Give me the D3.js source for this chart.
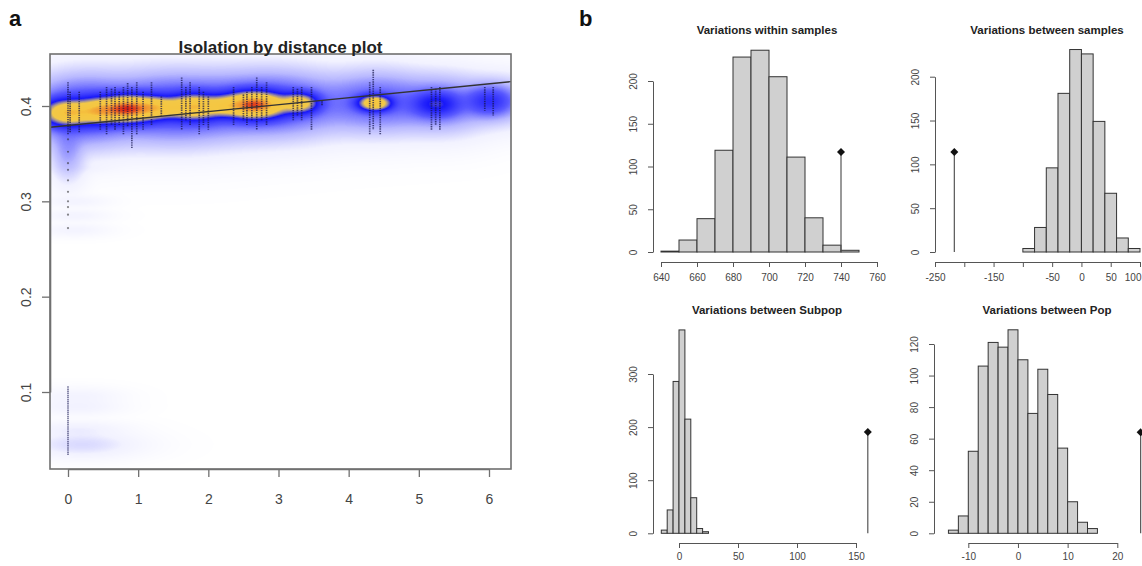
<!DOCTYPE html>
<html><head><meta charset="utf-8">
<script src="https://cdn.jsdelivr.net/npm/d3@7"></script>
<style>
body{margin:0;background:#fff}
svg{display:block}
text{font-family:"Liberation Sans",Arial,Helvetica,sans-serif}
</style>
</head><body>
<svg id="chart" width="1142" height="566"></svg>
<script>
// ================= Panel a : Isolation by distance =================
const ibdXTicks = [0, 1, 2, 3, 4, 5, 6];
const ibdYTicks = [0.1, 0.2, 0.3, 0.4];
const ibdTitle = "Isolation by distance plot";

// vertical strips of points (geographic distance, genetic distance range)
const stripDist = [0.0, 0.03, 0.16, 0.46, 0.55, 0.62, 0.67, 0.73, 0.79, 0.85, 0.91, 0.98, 1.07, 1.19, 1.33, 1.62, 1.68, 1.74, 1.87, 1.93, 2.0, 2.36, 2.5, 2.55, 2.62, 2.69, 2.76, 2.83, 3.21, 3.27, 3.33, 3.47, 3.62, 4.3, 4.35, 4.45, 5.18, 5.24, 5.3, 5.94, 6.06];
const stripLo   = [0.370, 0.372, 0.372, 0.375, 0.370, 0.380, 0.375, 0.380, 0.370, 0.378, 0.356, 0.370, 0.375, 0.380, 0.390, 0.375, 0.385, 0.380, 0.370, 0.380, 0.375, 0.380, 0.385, 0.380, 0.385, 0.375, 0.385, 0.380, 0.385, 0.390, 0.385, 0.375, 0.400, 0.370, 0.375, 0.370, 0.375, 0.380, 0.375, 0.395, 0.390];
const stripHi   = [0.425, 0.415, 0.415, 0.415, 0.420, 0.418, 0.420, 0.415, 0.420, 0.424, 0.420, 0.425, 0.415, 0.425, 0.410, 0.430, 0.420, 0.425, 0.420, 0.415, 0.410, 0.420, 0.412, 0.415, 0.420, 0.430, 0.420, 0.425, 0.420, 0.418, 0.420, 0.420, 0.405, 0.425, 0.438, 0.420, 0.420, 0.418, 0.420, 0.420, 0.420];
// sparse low values at distance 0
const lowDist = [0, 0, 0, 0, 0, 0, 0, 0, 0, 0];
const lowVal  = [0.365, 0.352, 0.340, 0.333, 0.322, 0.300, 0.294, 0.286, 0.272, 0.310];
const tailDist = 0;
const tailLo = 0.034, tailHi = 0.106;

// smoothed density blobs: centre x, centre y, spread x, spread y, weight
const densX  = [0.0,   0.45,  0.85,  1.2,   1.8,   2.65,  3.3,   4.37,  5.25,  6.0,   0.2,   1.5,   2.9,   4.4,   5.3,   6.1,   0.0,   0.1,    0.1,    0.1,    0.1,    0.15,   0.15,   0.15,   0.2,   1.42,  2.22];
const densY  = [0.393, 0.395, 0.397, 0.398, 0.399, 0.401, 0.403, 0.403, 0.402, 0.405, 0.395, 0.398, 0.402, 0.404, 0.402, 0.405, 0.355, 0.335,  0.300,  0.285,  0.270,  0.095,  0.085,  0.060,  0.045, 0.398, 0.400];
const densSx = [0.2,   0.18,  0.2,   0.15,  0.22,  0.25,  0.15,  0.13,  0.18,  0.18,  0.4,   0.6,   0.55,  0.4,   0.35,  0.3,   0.12,  0.25,   0.2,    0.2,    0.2,    0.25,   0.25,   0.3,    0.35,  0.14,  0.14];
const densSy = [0.0075,0.0075,0.0075,0.007, 0.0075,0.0075,0.006, 0.0045,0.007, 0.008, 0.017, 0.017, 0.016, 0.015, 0.014, 0.012, 0.015, 0.003,  0.003,  0.003,  0.003,  0.004,  0.004,  0.004,  0.006, 0.006, 0.006];
const densW  = [0.8,   0.75,  1.3,   0.55,  0.8,   1.3,   0.6,   0.8,   0.2,   0.12,  0.1,   0.1,   0.09,  0.06,  0.05,  0.025, 0.02,  0.0006, 0.0004, 0.0004, 0.0004, 0.0005, 0.0007, 0.001,  0.003, 0.3,   0.3];

// fitted regression line
const lineIntercept = 0.3796, lineSlope = 0.00728;

// ================= Panel b : randomisation tests =================
const h1Title = "Variations within samples";
const h1BinStart = [640, 650, 660, 670, 680, 690, 700, 710, 720, 730, 740];
const h1Counts   = [1, 14, 39, 119, 228, 236, 205, 111, 40, 8, 2];
const h1BinWidth = 10;
const h1Obs = 740, h1ObsH = 117;
const h1XTicks = [640, 660, 680, 700, 720, 740, 760];
const h1XLabels = [640, 660, 680, 700, 720, 740, 760];
const h1YTicks = [0, 50, 100, 150, 200];

const h2Title = "Variations between samples";
const h2BinStart = [-100, -80, -60, -40, -20, 0, 20, 40, 60, 80];
const h2Counts   = [4, 28, 96, 181, 231, 226, 149, 67, 16, 4];
const h2BinWidth = 20;
const h2Obs = -217, h2ObsH = 114;
const h2XTicks = [-250, -200, -150, -100, -50, 0, 50, 100];
const h2XLabels = [-250, -150, -50, 0, 50, 100];
const h2YTicks = [0, 50, 100, 150, 200];

const h3Title = "Variations between Subpop";
const h3BinStart = [-15, -10, -5, 0, 5, 10, 15, 20];
const h3Counts   = [6, 44, 286, 383, 215, 67, 9, 3];
const h3BinWidth = 5;
const h3Obs = 160, h3ObsH = 191;
const h3XTicks = [0, 50, 100, 150];
const h3XLabels = [0, 50, 100, 150];
const h3YTicks = [0, 100, 200, 300];

const h4Title = "Variations between Pop";
const h4BinStart = [-14, -12, -10, -8, -6, -4, -2, 0, 2, 4, 6, 8, 10, 12, 14];
const h4Counts   = [2, 11, 52, 106, 121, 118, 129, 110, 76, 104, 88, 54, 20, 7, 3];
const h4BinWidth = 2;
const h4Obs = 24.7, h4ObsH = 64;
const h4XTicks = [-10, 0, 10, 20];
const h4XLabels = [-10, 0, 10, 20];
const h4YTicks = [0, 20, 40, 60, 80, 100, 120];

// ================= Drawing =================
const svg = d3.select("#chart");
const TXT = "#444", AXC = "#555";

svg.append("text").attr("x", 9).attr("y", 26).attr("font-size", 22).attr("font-weight", "bold").attr("fill", "#111").text("a");
svg.append("text").attr("x", 579).attr("y", 26).attr("font-size", 22).attr("font-weight", "bold").attr("fill", "#111").text("b");

// ---- Panel a ----
const box = {x0: 50, x1: 511, y0: 54, y1: 469};
const ax = d3.scaleLinear().domain([0, 6]).range([68, 489]);
const ay = d3.scaleLinear().domain([0.1, 0.4]).range([392, 106]);

svg.append("defs").append("clipPath").attr("id", "clipA")
  .append("rect").attr("x", box.x0).attr("y", box.y0).attr("width", box.x1 - box.x0).attr("height", box.y1 - box.y0);

// density raster
(function () {
  const W = box.x1 - box.x0, H = box.y1 - box.y0;
  const cv = document.createElement("canvas");
  cv.width = W; cv.height = H;
  const ctx = cv.getContext("2d");
  const img = ctx.createImageData(W, H);
  const field = new Float32Array(W * H);
  let fmax = 0;
  for (let j = 0; j < H; j++) {
    const yv = ay.invert(box.y0 + j + 0.5);
    for (let i = 0; i < W; i++) {
      const xv = ax.invert(box.x0 + i + 0.5);
      let s = 0;
      for (let k = 0; k < densX.length; k++) {
        const dx = (xv - densX[k]) / densSx[k], dy = (yv - densY[k]) / densSy[k];
        const e = dx * dx + dy * dy;
        if (e < 60) s += densW[k] * Math.exp(-0.5 * e);
      }
      field[j * W + i] = s;
      if (s > fmax) fmax = s;
    }
  }
  const ramp = d3.scaleLinear()
    .domain([0, 0.15, 0.3, 0.45, 0.62, 0.7, 0.76, 0.87, 0.94, 1])
    .range(["#ffffff", "#f2f2ff", "#b8b8ff", "#5858ff", "#1818fa", "#9c8c9c", "#f2c848", "#f5c640", "#f09030", "#dc2414"])
    .interpolate(d3.interpolateRgb).clamp(true);
  const lut = d3.range(256).map(v => d3.rgb(ramp(v / 255)));
  for (let p = 0; p < W * H; p++) {
    const t = Math.pow(field[p] / fmax, 0.25);
    const c = lut[Math.round(t * 255)];
    img.data[p * 4] = c.r; img.data[p * 4 + 1] = c.g; img.data[p * 4 + 2] = c.b; img.data[p * 4 + 3] = 255;
  }
  ctx.putImageData(img, 0, 0);
  svg.append("image").attr("x", box.x0).attr("y", box.y0).attr("width", W).attr("height", H)
    .attr("preserveAspectRatio", "none").attr("href", cv.toDataURL());
})();

const gA = svg.append("g").attr("clip-path", "url(#clipA)");
// point strips
gA.selectAll("line.strip").data(stripDist).join("line").attr("class", "strip")
  .attr("x1", d => ax(d)).attr("x2", d => ax(d))
  .attr("y1", (d, i) => ay(stripHi[i])).attr("y2", (d, i) => ay(stripLo[i]))
  .attr("stroke", "#15154a").attr("stroke-width", 1.7).attr("stroke-opacity", 0.7)
  .attr("stroke-dasharray", "1.4 0.9");
gA.selectAll("circle.low").data(lowVal).join("circle").attr("class", "low")
  .attr("cx", (d, i) => ax(lowDist[i])).attr("cy", d => ay(d)).attr("r", 1.1)
  .attr("fill", "#333").attr("fill-opacity", 0.6);
gA.append("line").attr("x1", ax(tailDist)).attr("x2", ax(tailDist))
  .attr("y1", ay(tailHi)).attr("y2", ay(tailLo))
  .attr("stroke", "#2a2a60").attr("stroke-width", 1.4).attr("stroke-opacity", 0.75).attr("stroke-dasharray", "1.5 0.6");
// regression line
const lx0 = ax.invert(box.x0), lx1 = ax.invert(box.x1);
gA.append("line")
  .attr("x1", ax(lx0)).attr("y1", ay(lineIntercept + lineSlope * lx0))
  .attr("x2", ax(lx1)).attr("y2", ay(lineIntercept + lineSlope * lx1))
  .attr("stroke", "#333").attr("stroke-width", 1.3);

svg.append("rect").attr("x", box.x0).attr("y", box.y0).attr("width", box.x1 - box.x0).attr("height", box.y1 - box.y0)
  .attr("fill", "none").attr("stroke", "#707070").attr("stroke-width", 1.6);

const axA = svg.append("g").attr("transform", `translate(0,${box.y1})`)
  .call(d3.axisBottom(ax).tickValues(ibdXTicks).tickSize(8).tickSizeOuter(0).tickPadding(17).tickFormat(d3.format("d")));
axA.select(".domain").attr("stroke", "#707070").attr("stroke-width", 1.6);
axA.selectAll(".tick line").attr("stroke", "#707070").attr("stroke-width", 1.3);
axA.selectAll(".tick text").attr("font-size", 14).attr("fill", TXT).attr("font-family", null);

const ayA = svg.append("g").attr("transform", `translate(${box.x0},0)`)
  .call(d3.axisLeft(ay).tickValues(ibdYTicks).tickSize(8).tickSizeOuter(0).tickFormat(d3.format(".1f")));
ayA.select(".domain").attr("stroke", "#707070").attr("stroke-width", 1.6);
ayA.selectAll(".tick line").attr("stroke", "#707070").attr("stroke-width", 1.3);
ayA.selectAll(".tick text").attr("font-size", 14).attr("fill", TXT).attr("font-family", null)
  .attr("transform", "rotate(-90)").attr("x", 0).attr("y", -19).attr("dy", 0).attr("text-anchor", "middle");

svg.append("text").attr("x", (box.x0 + box.x1) / 2).attr("y", 53).attr("text-anchor", "middle")
  .attr("font-size", 17).attr("font-weight", "bold").attr("fill", "#222").text(ibdTitle);

// ---- Panel b ----
function drawHist(o) {
  const x = d3.scaleLinear().domain(o.xDom).range(o.xRange);
  const y = d3.scaleLinear().domain(o.yDom).range(o.yRange);
  const g = svg.append("g");
  g.selectAll("rect").data(o.counts).join("rect")
    .attr("x", (d, i) => x(o.binStart[i])).attr("width", (d, i) => x(o.binStart[i] + o.binWidth) - x(o.binStart[i]))
    .attr("y", d => y(d)).attr("height", d => y(0) - y(d))
    .attr("fill", "#d0d0d0").attr("stroke", "#333").attr("stroke-width", 1);
  g.append("line").attr("x1", x(o.obs)).attr("x2", x(o.obs)).attr("y1", y(0)).attr("y2", y(o.obsH))
    .attr("stroke", "#555").attr("stroke-width", 1.2);
  g.append("path").attr("d", d3.symbol(d3.symbolSquare, 32)())
    .attr("transform", `translate(${x(o.obs)},${y(o.obsH)}) rotate(45)`).attr("fill", "#111");
  const xa = g.append("g").attr("transform", `translate(0,${o.axisY})`)
    .call(d3.axisBottom(x).tickValues(o.xTicks).tickSize(5).tickSizeOuter(0).tickPadding(o.labPad)
      .tickFormat(d => o.xLabels.includes(d) ? d : ""));
  xa.selectAll(".tick text").attr("font-size", 10).attr("fill", TXT).attr("font-family", null);
  // keep a label that would run past the right edge of the page inside it
  xa.selectAll(".tick").each(function (d) {
    if (x(d) + 9 > 1142) d3.select(this).select("text").attr("text-anchor", "end").attr("x", 1141 - x(d));
  });
  xa.selectAll("line, path").attr("stroke", AXC);
  const ya = g.append("g").attr("transform", `translate(${o.axisX},0)`)
    .call(d3.axisLeft(y).tickValues(o.yTicks).tickSize(5).tickSizeOuter(0));
  ya.selectAll(".tick text").attr("font-size", 10).attr("fill", TXT).attr("font-family", null)
    .attr("transform", "rotate(-90)").attr("x", 0).attr("y", -16).attr("dy", 0).attr("text-anchor", "middle");
  ya.selectAll("line, path").attr("stroke", AXC);
  g.append("text").attr("x", o.titleX).attr("y", o.titleY).attr("text-anchor", "middle")
    .attr("font-size", 11.5).attr("font-weight", "bold").attr("fill", "#222").text(o.title);
}

drawHist({title: h1Title, binStart: h1BinStart, counts: h1Counts, binWidth: h1BinWidth, obs: h1Obs, obsH: h1ObsH,
  xTicks: h1XTicks, xLabels: h1XLabels, yTicks: h1YTicks,
  xDom: [640, 760], xRange: [661, 877], yDom: [0, 200], yRange: [252, 81], axisY: 262, axisX: 653, labPad: 7, titleX: 767, titleY: 34});
drawHist({title: h2Title, binStart: h2BinStart, counts: h2Counts, binWidth: h2BinWidth, obs: h2Obs, obsH: h2ObsH,
  xTicks: h2XTicks, xLabels: h2XLabels, yTicks: h2YTicks,
  xDom: [-250, 100], xRange: [935, 1140], yDom: [0, 200], yRange: [252, 76.7], axisY: 262, axisX: 935, labPad: 7, titleX: 1047, titleY: 34});
drawHist({title: h3Title, binStart: h3BinStart, counts: h3Counts, binWidth: h3BinWidth, obs: h3Obs, obsH: h3ObsH,
  xTicks: h3XTicks, xLabels: h3XLabels, yTicks: h3YTicks,
  xDom: [0, 150], xRange: [679, 856], yDom: [0, 300], yRange: [533.3, 374], axisY: 543, axisX: 653, labPad: 5, titleX: 767, titleY: 314});
drawHist({title: h4Title, binStart: h4BinStart, counts: h4Counts, binWidth: h4BinWidth, obs: h4Obs, obsH: h4ObsH,
  xTicks: h4XTicks, xLabels: h4XLabels, yTicks: h4YTicks,
  xDom: [-10, 20], xRange: [968.3, 1117.3], yDom: [0, 120], yRange: [533.3, 344], axisY: 543, axisX: 934, labPad: 5, titleX: 1047, titleY: 314});
</script>
</body></html>
